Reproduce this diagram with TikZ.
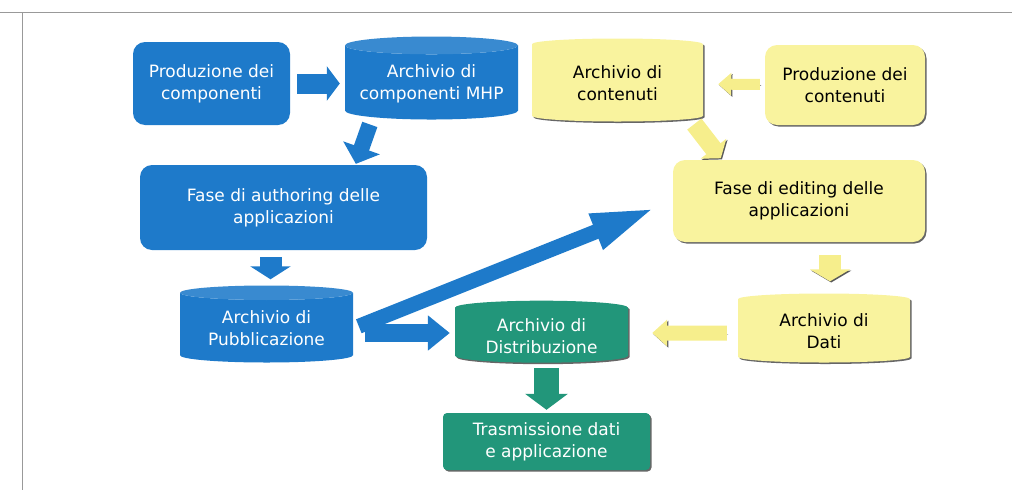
\documentclass[tikz,border=0pt]{standalone}
\usepackage{fontspec}
\setmainfont{DejaVu Sans}
\usetikzlibrary{arrows.meta,shapes.geometric,shadows}
\definecolor{mhpblue}{RGB}{30,122,202}
\definecolor{distgreen}{RGB}{34,150,122}
\definecolor{contyellow}{RGB}{249,243,158}
\definecolor{yarrowfill}{RGB}{246,238,140}
\tikzset{
  lbl/.style={align=center,font=\fontsize{17}{22}\selectfont,inner sep=2pt},
  shade/.style={drop shadow={shadow xshift=1.5pt,shadow yshift=-1.5pt,fill=black!75,opacity=0.8}},
  bluebox/.style={lbl,rounded corners=12pt,fill=mhpblue,text=white},
  greenbox/.style={lbl,rounded corners=4pt,fill=distgreen,text=white,shade},
  yellowbox/.style={lbl,rounded corners=12pt,fill=contyellow,text=black,shade},
  archive/.style={lbl,cylinder,shape border rotate=90,aspect=0.12},
  bluearch/.style={archive,cylinder uses custom fill,cylinder body fill=mhpblue,cylinder end fill=mhpblue!88!white,text=white},
  greenarch/.style={archive,fill=distgreen,text=white,shade},
  yellowarch/.style={archive,fill=contyellow,text=black,shade},
  barrow/.style={draw=mhpblue,line width=#1},
  garrow/.style={draw=distgreen,line width=#1},
  yarrow/.style={draw=yarrowfill,line width=#1,
    preaction={draw=black!65,transform canvas={xshift=1.2pt,yshift=-1.2pt}}},
  frameline/.style={draw=black!40,line width=1pt}
}

\begin{document}
\begin{tikzpicture}[x=1pt,y=-1pt]
\useasboundingbox (0,0) rectangle (1012,490);
\draw[frameline] (0,12) -- (1012,12);
\draw[frameline] (22,12) -- (22,490);

% lato applicazioni
\node[bluebox,minimum width=157pt,minimum height=83pt] (prodcomp) at (211.5,83.5) {Produzione dei\\componenti};
\node[bluearch,minimum width=173pt,minimum height=83pt] (archcomp) at (431.5,83.5) {Archivio di\\componenti MHP};
\node[bluebox,minimum width=287pt,minimum height=85pt] (authoring) at (283.5,207.5) {Fase di authoring delle\\applicazioni};
\node[bluearch,minimum width=173pt,minimum height=77pt] (archpub) at (266.5,328.5) {Archivio di\\Pubblicazione};

% distribuzione
\node[greenarch,minimum width=173pt,minimum height=62pt] (archdist) at (541.5,336) {Archivio di\\Distribuzione};
\node[greenbox,minimum width=207pt,minimum height=57pt] (trasm) at (546.5,441.5) {Trasmissione dati\\e applicazione};

% lato contenuti
\node[yellowarch,minimum width=171pt,minimum height=83pt] (archcont) at (617.5,83.5) {Archivio di\\contenuti};
\node[yellowbox,minimum width=160pt,minimum height=80pt] (prodcont) at (845,85) {Produzione dei\\contenuti};
\node[yellowbox,minimum width=252pt,minimum height=82pt] (editing) at (799,201) {Fase di editing delle\\applicazioni};
\node[yellowarch,minimum width=172pt,minimum height=69pt] (archdati) at (824,331.5) {Archivio di\\Dati};

% frecce
\draw[barrow=20pt,-{Triangle[length=13pt,width=34pt]},shorten <=7pt,shorten >=5pt] (prodcomp) -- (archcomp);
\draw[barrow=16pt,-{Triangle[length=17pt,width=38pt]},shorten <=5pt,shorten >=1pt] ([xshift=-60pt]archcomp.south) -- ([xshift=72pt]authoring.north);
\draw[barrow=22pt,-{Triangle[length=13pt,width=40pt]},shorten <=7pt,shorten >=6pt] ([xshift=-13pt]authoring.south) -- ([xshift=4pt]archpub.north);
\draw[barrow=15pt,-{Triangle[length=65pt,width=34pt]},shorten <=6pt,shorten >=18pt] (archpub.east) -- (editing.west);
\draw[barrow=18pt,-{Triangle[length=22pt,width=34pt]},shorten <=12pt,shorten >=5pt] ([yshift=-4.5pt]archpub.east) -- ([yshift=3pt]archdist.west);
\draw[garrow=25pt,-{Triangle[length=16pt,width=42pt]},shorten <=5pt,shorten >=3pt] ([xshift=5pt]archdist.south) -- (trasm.north);
\draw[yarrow=11pt,-{Triangle[length=13pt,width=22pt]},shorten <=5pt,shorten >=15pt] (prodcont) -- (archcont);
\draw[yarrow=18pt,-{Triangle[length=12pt,width=32pt]},shorten <=3pt,shorten >=2pt] ([xshift=75pt]archcont.south) -- ([xshift=-77pt]editing.north);
\draw[yarrow=22pt,-{Triangle[length=12pt,width=40pt]},shorten <=13pt,shorten >=12pt] ([xshift=31pt]editing.south) -- ([xshift=6pt]archdati.north);
\draw[yarrow=15pt,-{Triangle[length=15pt,width=26pt]},shorten <=11pt,shorten >=24pt] ([yshift=-1.5pt]archdati.west) -- ([yshift=3pt]archdist.east);
\end{tikzpicture}
\end{document}
